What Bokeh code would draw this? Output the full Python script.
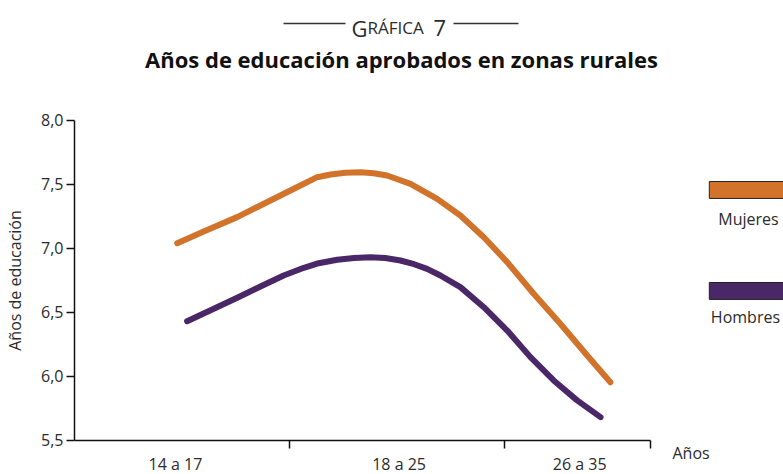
from bokeh.plotting import figure
from bokeh.models import (FixedTicker, Label, BoxAnnotation, ColumnDataSource, Range1d)
from bokeh.core.properties import value
from bokeh.embed import file_html
from bokeh.resources import INLINE

# ---- data ----
categories = ["14 a 17", "18 a 25", "26 a 35"]
cat_centers = [-0.03, 1.01, 1.85]
cat_bounds = [0.5, 1.5, 2.18]

series_names = ["Mujeres", "Hombres"]
series_colors = ["#D2732B", "#4A2868"]

mujeres_x = [-0.022, 0.101, 0.257, 0.365, 0.458, 0.551, 0.629, 0.691, 0.760, 0.830, 0.892, 0.954,
             1.063, 1.187, 1.295, 1.404, 1.513, 1.636, 1.760, 1.885, 1.993]
mujeres_y = [7.041, 7.133, 7.245, 7.336, 7.414, 7.492, 7.557, 7.578, 7.592, 7.596, 7.588, 7.570,
             7.505, 7.388, 7.258, 7.088, 6.893, 6.646, 6.412, 6.164, 5.955]
hombres_x = [0.024, 0.148, 0.257, 0.365, 0.473, 0.567, 0.636, 0.722, 0.800, 0.877, 0.946, 1.016,
             1.080, 1.140, 1.202, 1.295, 1.404, 1.513, 1.621, 1.729, 1.838, 1.947]
hombres_y = [6.432, 6.529, 6.615, 6.703, 6.789, 6.849, 6.885, 6.912, 6.926, 6.932, 6.925, 6.906,
             6.877, 6.841, 6.789, 6.698, 6.541, 6.359, 6.151, 5.969, 5.813, 5.682]

y_ticks = [5.5, 6.0, 6.5, 7.0, 7.5, 8.0]
y_labels = ["5,5", "6,0", "6,5", "7,0", "7,5", "8,0"]

FONT = "Open Sans"
TXT = "#2b2b2b"
W, H = 783, 474

p = figure(width=W, height=H, output_backend="svg", toolbar_location=None,
           x_range=Range1d(-0.844, 2.798), y_range=Range1d(5.234, 8.9375),
           min_border=0, min_border_left=0, min_border_right=0,
           min_border_top=0, min_border_bottom=0)
p.title = None
p.outline_line_color = None
p.grid.visible = False
p.background_fill_color = "white"
p.border_fill_color = "white"

# series
p.line(mujeres_x, mujeres_y, line_color=series_colors[0], line_width=6, line_cap="round", line_join="round")
p.line(hombres_x, hombres_y, line_color=series_colors[1], line_width=6, line_cap="round", line_join="round")

# y axis
ya = p.yaxis[0]
ya.fixed_location = -0.5
ya.bounds = (5.5, 8.0)
ya.ticker = FixedTicker(ticks=y_ticks)
ya.major_label_overrides = {t: l for t, l in zip(y_ticks, y_labels)}
ya.axis_line_color = "#111111"
ya.axis_line_width = 1.5
ya.major_tick_line_color = "#111111"
ya.major_tick_line_width = 1.5
ya.major_tick_out = 8
ya.major_tick_in = 0
ya.minor_tick_out = 0
ya.minor_tick_in = 0
ya.major_label_standoff = 3
ya.major_label_text_font = FONT
ya.major_label_text_font_size = "16px"
ya.major_label_text_color = TXT
ya.axis_label = "Años de educación"
ya.axis_label_text_font = FONT
ya.axis_label_text_font_size = "16px"
ya.axis_label_text_font_style = "normal"
ya.axis_label_text_color = TXT
ya.axis_label_standoff = 12

# x axis
xa = p.xaxis[0]
xa.fixed_location = 5.5
xa.ticker = FixedTicker(ticks=cat_centers, minor_ticks=cat_bounds)
xa.major_label_overrides = {t: l for t, l in zip(cat_centers, categories)}
xa.bounds = (-0.5, 2.18)
xa.axis_line_color = "#111111"
xa.axis_line_width = 1.5
xa.major_tick_out = 0
xa.major_tick_in = 0
xa.minor_tick_line_color = "#111111"
xa.minor_tick_line_width = 1.5
xa.minor_tick_out = 8
xa.minor_tick_in = 0
xa.major_label_standoff = 5
xa.major_label_text_font = FONT
xa.major_label_text_font_size = "16px"
xa.major_label_text_color = TXT

# x axis title
p.add_layout(Label(x=672, y=H - 452, x_units="screen", y_units="screen", text="Años",
                   text_font=FONT, text_font_size="16px", text_color=TXT,
                   text_align="left", text_baseline="middle"))

# legend swatches and labels (label under swatch)
sw_left = [2.453, 2.453]
sw_right = [2.85, 2.85]
sw_top = [7.523, 6.734]
sw_bottom = [7.391, 6.602]
p.quad(left=sw_left, right=sw_right, top=sw_top, bottom=sw_bottom,
       fill_color=series_colors, line_color="#222222", line_width=1)
leg_src = ColumnDataSource(dict(x=[2.635, 2.621], y=[7.234, 6.461], t=series_names))
p.text(x="x", y="y", text="t", source=leg_src, text_font=value(FONT), text_font_size="16px",
       text_color=TXT, text_align="center", text_baseline="middle")

# headings
p.add_layout(Label(x=401, y=H - 58, x_units="screen", y_units="screen",
                   text="Años de educación aprobados en zonas rurales",
                   text_font=FONT, text_font_size="22px", text_font_style="bold",
                   text_color="#111111", text_align="center", text_baseline="alphabetic"))
p.add_layout(Label(x=351, y=H - 27, x_units="screen", y_units="screen", text="G",
                   text_font=FONT, text_font_size="22px", text_color=TXT,
                   text_align="left", text_baseline="alphabetic"))
p.add_layout(Label(x=367, y=H - 27, x_units="screen", y_units="screen", text="RÁFICA",
                   text_font=FONT, text_font_size="17px", text_color=TXT,
                   text_align="left", text_baseline="alphabetic"))
p.add_layout(Label(x=433, y=H - 27, x_units="screen", y_units="screen", text="7",
                   text_font=FONT, text_font_size="22px", text_color=TXT,
                   text_align="left", text_baseline="alphabetic"))
for l, r in [(283, 345), (453, 518)]:
    p.add_layout(BoxAnnotation(left=l, right=r, bottom=H - 23.7, top=H - 22.3,
                               left_units="screen", right_units="screen",
                               top_units="screen", bottom_units="screen",
                               fill_color="#333333", fill_alpha=1, line_color=None))

open("out.html", "w").write(file_html(p, INLINE))
